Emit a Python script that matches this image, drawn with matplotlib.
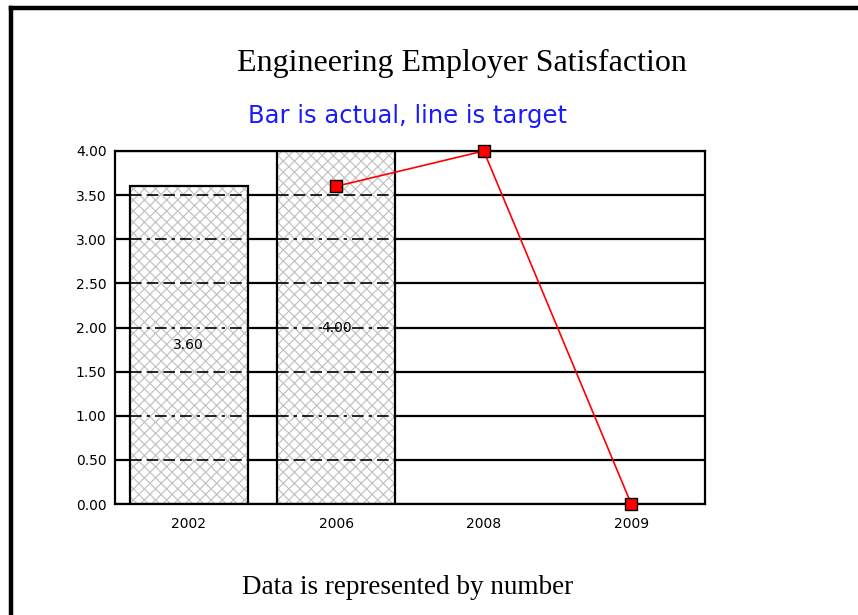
import numpy as np
import matplotlib
matplotlib.use("Agg")
import matplotlib.pyplot as plt
from matplotlib.lines import Line2D

# -------------------
# 데이터
# -------------------
years = ["2002", "2006", "2008", "2009"]
actual = [3.60, 4.00, np.nan, np.nan]          # 막대 (실적)
target = [np.nan, 3.60, 4.00, 0.00]            # 선 (목표)
yticks = [0.0, 0.5, 1.0, 1.5, 2.0, 2.5, 3.0, 3.5, 4.0]

title = "Engineering Employer Satisfaction"
subtitle = "Bar is actual, line is target"
footer = "Data is represented by number"

plt.rcParams["hatch.linewidth"] = 0.9
plt.rcParams["hatch.color"] = "#c4c4c4"

fig = plt.figure(figsize=(8.58, 6.15), dpi=100)
ax = fig.add_axes([115 / 858, 1 - 504 / 615, 590 / 858, 353 / 615])

x = np.arange(len(years))
ax.set_xlim(-0.5, len(years) - 0.5)
ax.set_ylim(0, 4)

# 그리드 (막대 뒤)
for v in yticks:
    ax.axhline(v, color="black", lw=1.6, zorder=0.5)

# 막대: 해치 채우기 + 외곽선
bars = ax.bar(x, actual, width=0.8, color="white", edgecolor="#c4c4c4",
              hatch="xxx", lw=0, zorder=2)
ax.bar(x, actual, width=0.8, fill=False, edgecolor="black", lw=1.6, zorder=3)

# 막대 안쪽 그리드는 점선
for b in bars:
    if np.isnan(b.get_height()):
        continue
    x0, x1 = b.get_x(), b.get_x() + b.get_width()
    for i, v in enumerate(yticks):
        if 0 < v < b.get_height():
            ls = (0, (7, 3)) if i % 2 else (0, (7, 3, 2, 3))
            ax.hlines(v, x0, x1, color="black", lw=1.2, linestyles=[ls], zorder=2.5)

# 값 라벨
for xi, v in zip(x, actual):
    if not np.isnan(v):
        ax.text(xi, v / 2, f"{v:.2f}", ha="center", va="center",
                fontsize=10, family="DejaVu Sans", zorder=5)

# 목표선
ax.plot(x, target, color="red", lw=1.2, marker="s", markersize=8.5,
        markerfacecolor="red", markeredgecolor="black", markeredgewidth=1,
        zorder=4, clip_on=False)

ax.set_xticks(x)
ax.set_xticklabels(years)
ax.set_yticks(yticks)
ax.set_yticklabels([f"{v:.2f}" for v in yticks])
ax.tick_params(length=0, labelsize=10)
ax.tick_params(axis="y", pad=6)
ax.tick_params(axis="x", pad=9)
for lab in ax.get_xticklabels() + ax.get_yticklabels():
    lab.set_family("DejaVu Sans")
for s in ax.spines.values():
    s.set_linewidth(1.6)
    s.set_zorder(3.5)

# 제목 / 부제 / 하단 문구
fig.text(462 / 858, 1 - 63 / 615, title, ha="center", va="center",
         fontsize=23, family="Liberation Serif")
fig.text(408 / 858, 1 - 116 / 615, subtitle, ha="center", va="center",
         fontsize=17.5, family="DejaVu Sans", color="#1a1aff")
fig.text(408 / 858, 1 - 587 / 615, footer, ha="center", va="center",
         fontsize=19.5, family="Liberation Serif")

# 바깥 테두리 (왼쪽, 위)
fig.add_artist(Line2D([10.5 / 858, 10.5 / 858], [0, 1 - 7.5 / 615],
                      transform=fig.transFigure, color="black", lw=3.2,
                      solid_capstyle="projecting"))
fig.add_artist(Line2D([10.5 / 858, 1], [1 - 7.5 / 615, 1 - 7.5 / 615],
                      transform=fig.transFigure, color="black", lw=3.2,
                      solid_capstyle="projecting"))

fig.savefig("out.png", dpi=100)
